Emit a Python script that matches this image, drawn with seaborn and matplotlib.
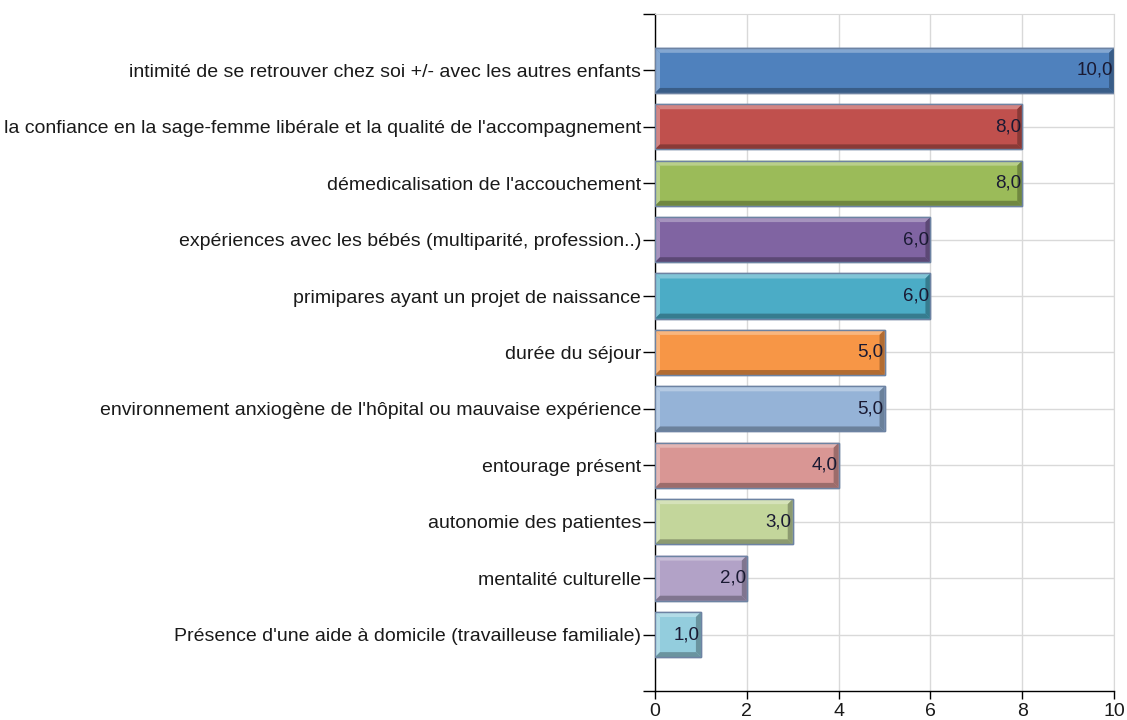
import seaborn as sns
import matplotlib.pyplot as plt
import matplotlib.colors as mcolors
from matplotlib.patches import Polygon
from matplotlib.ticker import FixedLocator
import pandas as pd

# données
categories = [
    "intimité de se retrouver chez soi +/- avec les autres enfants",
    "la confiance en la sage-femme libérale et la qualité de l'accompagnement",
    "démedicalisation de l'accouchement",
    "expériences avec les bébés (multiparité, profession..)",
    "primipares ayant un projet de naissance",
    "durée du séjour",
    "environnement anxiogène de l'hôpital ou mauvaise expérience",
    "entourage présent",
    "autonomie des patientes",
    "mentalité culturelle",
    "Présence d'une aide à domicile (travailleuse familiale)",
]
values = [10, 8, 8, 6, 6, 5, 5, 4, 3, 2, 1]
colors = ["#4F81BD", "#C0504D", "#9BBB59", "#8064A2", "#4BACC6", "#F79646",
          "#95B3D7", "#D99694", "#C3D69B", "#B2A2C7", "#93CDDD"]

sns.set_style("white")
plt.rcParams['font.family'] = ['Liberation Sans', 'DejaVu Sans']

df = pd.DataFrame({'cat': categories, 'val': values})

fig = plt.figure(figsize=(11.27, 7.2), dpi=100)
ax = fig.add_axes([0.5812, 0.0403, 0.4073, 0.9403])

sns.barplot(data=df, x='val', y='cat', hue='cat', palette=colors, legend=False,
            saturation=1, width=0.8, edgecolor='#6d83a3', linewidth=1, ax=ax, zorder=3)

ax.set_xlim(0, 10)
ax.set_ylim(11, -1)
ax.set_xticks(range(0, 11, 2))
ax.yaxis.set_minor_locator(FixedLocator([-1, 11]))
ax.set_xlabel('')
ax.set_ylabel('')

ax.grid(True, which='major', color='#d9d9d9', linewidth=1, zorder=0)
ax.set_axisbelow(True)
for s in ['top', 'right']:
    ax.spines[s].set_color('#d9d9d9')
for s in ['left', 'bottom']:
    ax.spines[s].set_color('black')
    ax.spines[s].set_linewidth(1)

ax.tick_params(axis='y', which='both', length=9, width=1, color='black',
               labelsize=14, labelcolor='#1a1a1a', pad=1, left=True)
ax.tick_params(axis='x', length=6, width=1, color='black', labelsize=14,
               labelcolor='#1a1a1a', pad=3, bottom=True)

# effet biseauté
bx = 10 / 459 * 5
by = 12 / 677 * 5
for p, c in zip(ax.patches, colors):
    x0, y0 = p.get_x(), p.get_y()
    w, h = p.get_width(), p.get_height()
    x1, y1 = x0 + w, y0 + h
    base = mcolors.to_rgb(c)
    light = tuple(v + (1 - v) * 0.3 for v in base)
    dark = tuple(v * 0.72 for v in base)
    # haut (y0 en haut car axe inversé)
    ax.add_patch(Polygon([(x0, y0), (x1, y0), (x1 - bx, y0 + by), (x0 + bx, y0 + by)],
                         closed=True, facecolor=light, edgecolor='none', zorder=4))
    ax.add_patch(Polygon([(x0, y0), (x0 + bx, y0 + by), (x0 + bx, y1 - by), (x0, y1)],
                         closed=True, facecolor=light, edgecolor='none', zorder=4))
    ax.add_patch(Polygon([(x0, y1), (x0 + bx, y1 - by), (x1 - bx, y1 - by), (x1, y1)],
                         closed=True, facecolor=dark, edgecolor='none', zorder=4))
    ax.add_patch(Polygon([(x1, y0), (x1, y1), (x1 - bx, y1 - by), (x1 - bx, y0 + by)],
                         closed=True, facecolor=dark, edgecolor='none', zorder=4))
    ax.add_patch(Polygon([(x0, y0), (x1, y0), (x1, y1), (x0, y1)], closed=True,
                         facecolor='none', edgecolor='#6d83a3', linewidth=1, zorder=5))
    ax.text(x1 - 0.02, y0 + h / 2, f"{p.get_width():.1f}".replace('.', ','),
            ha='right', va='center', fontsize=13.5, color='#1a1a33', zorder=6)

fig.savefig('out.png', dpi=100)
